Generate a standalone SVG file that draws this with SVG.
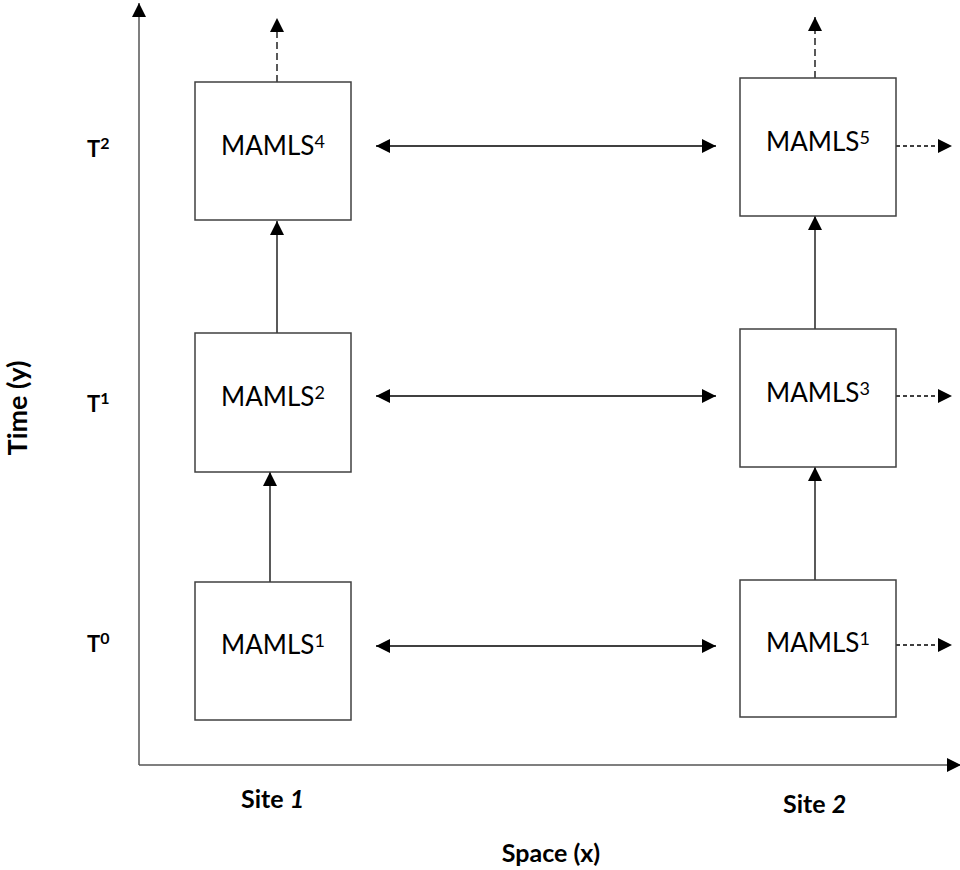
<svg xmlns="http://www.w3.org/2000/svg" width="960" height="870" viewBox="0 0 960 870">
<style>
.box{fill:#fff;stroke:#404040;stroke-width:1.5}
.axis{stroke:#555;stroke-width:1.5;fill:none}
.ln{stroke:#000;stroke-width:1.3;fill:none}
.dash1{stroke:#000;stroke-width:1.3;fill:none;stroke-dasharray:7 4}
.dash2{stroke:#000;stroke-width:1.3;fill:none;stroke-dasharray:4 3}
.lbl{font-family:Lato,"Liberation Sans",sans-serif;font-size:26px;fill:#000;text-anchor:middle}
.sup{font-size:18px}
.b{font-family:Lato,"Liberation Sans",sans-serif;font-weight:bold;fill:#000}
</style>
<defs>
<marker id="ah" markerWidth="14" markerHeight="14" viewBox="0 0 14 14" refX="14" refY="7" orient="auto-start-reverse" markerUnits="userSpaceOnUse">
<path d="M0,0 L14,7 L0,14 Z" fill="#000"/>
</marker>
</defs>
<g id="axes">
<line class="axis" x1="139" y1="765" x2="139" y2="3" marker-end="url(#ah)"/>
<line class="axis" x1="139" y1="765" x2="961" y2="765" marker-end="url(#ah)"/>
</g>
<g id="connectors">
<line class="ln" x1="270" y1="582" x2="270" y2="472" marker-end="url(#ah)"/>
<line class="ln" x1="277" y1="333" x2="277" y2="221" marker-end="url(#ah)"/>
<line class="ln" x1="815" y1="580" x2="815" y2="467" marker-end="url(#ah)"/>
<line class="ln" x1="815" y1="329" x2="815" y2="216" marker-end="url(#ah)"/>
<line class="dash1" x1="277" y1="82" x2="277" y2="18" marker-end="url(#ah)"/>
<line class="dash1" x1="815" y1="78" x2="815" y2="17" marker-end="url(#ah)"/>
<line class="ln" x1="376" y1="146" x2="716" y2="146" marker-start="url(#ah)" marker-end="url(#ah)"/>
<line class="ln" x1="376" y1="396" x2="716" y2="396" marker-start="url(#ah)" marker-end="url(#ah)"/>
<line class="ln" x1="376" y1="646" x2="716" y2="646" marker-start="url(#ah)" marker-end="url(#ah)"/>
<line class="dash2" x1="896" y1="146" x2="952" y2="146" marker-end="url(#ah)"/>
<line class="dash2" x1="896" y1="396" x2="952" y2="396" marker-end="url(#ah)"/>
<line class="dash2" x1="896" y1="645" x2="952" y2="645" marker-end="url(#ah)"/>
</g>
<g id="n-l0"><rect class="box" x="195" y="582" width="156" height="138"/><text class="lbl" x="273" y="654">MAMLS<tspan class="sup" dy="-7">1</tspan></text></g>
<g id="n-l1"><rect class="box" x="195" y="333" width="156" height="139"/><text class="lbl" x="273" y="406">MAMLS<tspan class="sup" dy="-7">2</tspan></text></g>
<g id="n-l2"><rect class="box" x="195" y="82" width="156" height="138"/><text class="lbl" x="273" y="155">MAMLS<tspan class="sup" dy="-7">4</tspan></text></g>
<g id="n-r0"><rect class="box" x="740" y="580" width="156" height="137"/><text class="lbl" x="818" y="652">MAMLS<tspan class="sup" dy="-7">1</tspan></text></g>
<g id="n-r1"><rect class="box" x="740" y="329" width="156" height="138"/><text class="lbl" x="818" y="402">MAMLS<tspan class="sup" dy="-7">3</tspan></text></g>
<g id="n-r2"><rect class="box" x="740" y="78" width="156" height="138"/><text class="lbl" x="818" y="151">MAMLS<tspan class="sup" dy="-7">5</tspan></text></g>
<g id="labels">
<text class="b" x="87" y="157" font-size="22">T<tspan font-size="16" dy="-8">2</tspan></text>
<text class="b" x="87" y="412" font-size="22">T<tspan font-size="16" dy="-8">1</tspan></text>
<text class="b" x="87" y="652" font-size="22">T<tspan font-size="16" dy="-8">0</tspan></text>
<text class="b" x="241" y="808" font-size="25">Site <tspan font-style="italic">1</tspan></text>
<text class="b" x="783" y="813" font-size="25">Site <tspan font-style="italic">2</tspan></text>
<text class="b" x="551" y="862" font-size="25" text-anchor="middle">Space (x)</text>
<text class="b" x="0" y="0" font-size="27" text-anchor="middle" transform="translate(27,408) rotate(-90)">Time (y)</text>
</g>
</svg>
